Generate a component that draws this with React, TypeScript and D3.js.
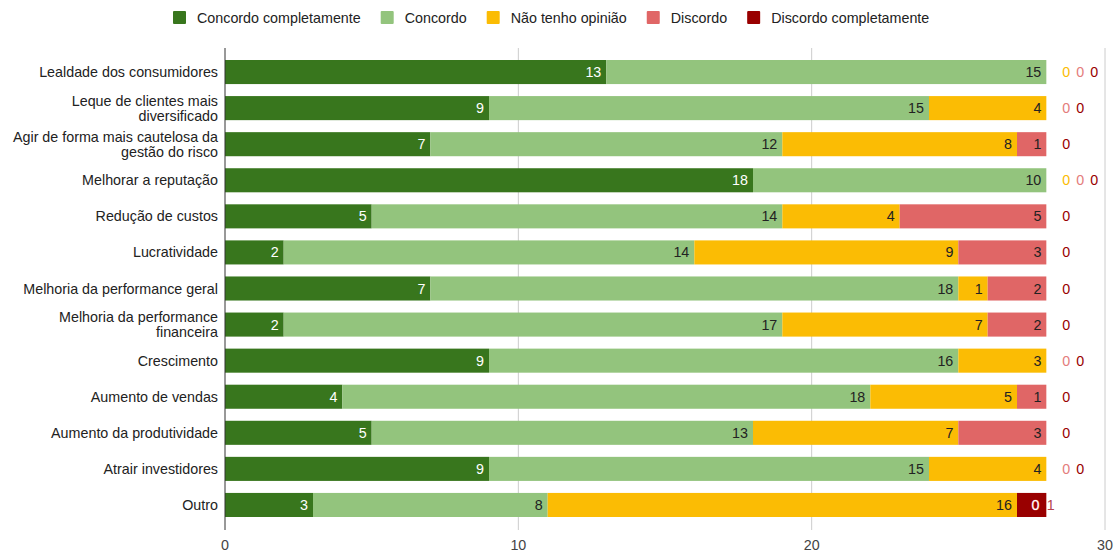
import React from "react";
import * as d3 from "d3";

const categories: string[][] = [
  ["Lealdade dos consumidores"],
  ["Leque de clientes mais", "diversificado"],
  ["Agir de forma mais cautelosa da", "gestão do risco"],
  ["Melhorar a reputação"],
  ["Redução de custos"],
  ["Lucratividade"],
  ["Melhoria da performance geral"],
  ["Melhoria da performance", "financeira"],
  ["Crescimento"],
  ["Aumento de vendas"],
  ["Aumento da produtividade"],
  ["Atrair investidores"],
  ["Outro"],
];

const seriesNames = [
  "Concordo completamente",
  "Concordo",
  "Não tenho opinião",
  "Discordo",
  "Discordo completamente",
];

const concordoCompletamente = [13, 9, 7, 18, 5, 2, 7, 2, 9, 4, 5, 9, 3];
const concordo = [15, 15, 12, 10, 14, 14, 18, 17, 16, 18, 13, 15, 8];
const naoTenhoOpiniao = [0, 4, 8, 0, 4, 9, 1, 7, 3, 5, 7, 4, 16];
const discordo = [0, 0, 1, 0, 5, 3, 2, 2, 0, 1, 3, 0, 0];
const discordoCompletamente = [0, 0, 0, 0, 0, 0, 0, 0, 0, 0, 0, 0, 1];

const xTicks = [0, 10, 20, 30];

const colors = ["#38761d", "#93c47d", "#fbbc04", "#e06666", "#990000"];
const labelColors = ["#ffffff", "#222222", "#222222", "#222222", "#ffffff"];

const FONT = "'Liberation Sans', Arial, sans-serif";
const FS = 14.3;

function measure(text: string, size = FS) {
  if (typeof document === "undefined") return text.length * 7;
  const c = document.createElement("canvas");
  const ctx = c.getContext("2d")!;
  ctx.font = `${size}px ${FONT}`;
  return ctx.measureText(text).width;
}

export default function App() {
  const W = 1118;
  const H = 554;
  const series = [concordoCompletamente, concordo, naoTenhoOpiniao, discordo, discordoCompletamente];
  const keys = categories.map((c) => c.join(" "));

  const x = d3.scaleLinear().domain([0, 30]).range([225, 1105]);
  const y = d3.scaleBand<string>().domain(keys).range([54, 523]).paddingInner(0.333).paddingOuter(0.1665);

  const rows = keys.map((k, i) => {
    const vals = series.map((s) => s[i]);
    let acc = 0;
    const segs = vals.map((v, j) => {
      const s = { j, v, x0: acc, x1: acc + v };
      acc += v;
      return s;
    });
    return { k, i, segs, total: acc };
  });

  const legendItems: { name: string; sx: number; tx: number; color: string }[] = [];
  let lx = 173;
  seriesNames.forEach((n, j) => {
    legendItems.push({ name: n, sx: lx, tx: lx + 24, color: colors[j] });
    lx += 24 + measure(n) + 20;
  });

  return (
    <div style={{ position: "absolute", left: 0, top: 0 }}>
      <svg width={W} height={H} style={{ display: "block", fontFamily: FONT }}>
        <rect width={W} height={H} fill="#ffffff" />
        {legendItems.map((l) => (
          <g key={l.name}>
            <rect x={l.sx} y={11} width={13} height={13} fill={l.color} rx={1} />
            <text x={l.tx} y={22.5} fontSize={FS} fill="#222">
              {l.name}
            </text>
          </g>
        ))}
        {xTicks.map((t) => (
          <g key={t}>
            {t !== 0 && <line x1={x(t)} x2={x(t)} y1={48} y2={530} stroke="#cccccc" strokeWidth={1} />}
            <text x={x(t)} y={550} fontSize={FS} fill="#444" textAnchor="middle">
              {t}
            </text>
          </g>
        ))}
        {rows.map((r) => {
          const by = y(r.k)!;
          const bh = y.bandwidth();
          const cy = by + bh / 2;
          const nonzero = r.segs.filter((s) => s.v > 0);
          const lastNz = nonzero[nonzero.length - 1];
          const trailingZeros = r.segs.filter((s) => s.v === 0 && s.j > lastNz.j);
          const innerZeros = r.segs.filter((s) => s.v === 0 && s.j < lastNz.j);
          const end = x(r.total);
          return (
            <g key={r.k}>
              {nonzero.map((s) => (
                <rect key={s.j} x={x(s.x0)} y={by} width={x(s.x1) - x(s.x0)} height={bh} fill={colors[s.j]} />
              ))}
              {nonzero.map((s) => {
                const displaced = innerZeros.length > 0 && s.j === lastNz.j;
                if (displaced) {
                  return (
                    <text key={"l" + s.j} x={end + 0.5} y={cy + 5} fontSize={FS} fill="#b5434f">
                      {s.v}
                    </text>
                  );
                }
                return (
                  <text key={"l" + s.j} x={x(s.x1) - 5} y={cy + 5} fontSize={FS} fill={labelColors[s.j]} textAnchor="end">
                    {s.v}
                  </text>
                );
              })}
              {innerZeros.map((s) => (
                <text
                  key={"iz" + s.j}
                  x={end - 7}
                  y={cy + 5}
                  fontSize={FS}
                  fill="#ffffff"
                  stroke={colors[s.j]}
                  strokeWidth={0.7}
                  paintOrder="stroke"
                  textAnchor="end"
                >
                  0
                </text>
              ))}
              {trailingZeros.map((s, k) => (
                <text key={"tz" + s.j} x={end + 16 + k * 14} y={cy + 5} fontSize={FS} fill={colors[s.j]} opacity={s.j === 3 ? 0.85 : 1}>
                  0
                </text>
              ))}
            </g>
          );
        })}
        <line x1={x(0)} x2={x(0)} y1={48} y2={530} stroke="#333" strokeWidth={1} />
        {rows.map((r) => {
          const cy = y(r.k)! + y.bandwidth() / 2;
          const lines = categories[r.i];
          const lh = 15;
          const startY = cy - ((lines.length - 1) * lh) / 2 + 5;
          return (
            <text key={"c" + r.k} x={218} fontSize={FS} fill="#222" textAnchor="end">
              {lines.map((ln, li) => (
                <tspan key={li} x={218} y={startY + li * lh}>
                  {ln}
                </tspan>
              ))}
            </text>
          );
        })}
      </svg>
    </div>
  );
}
